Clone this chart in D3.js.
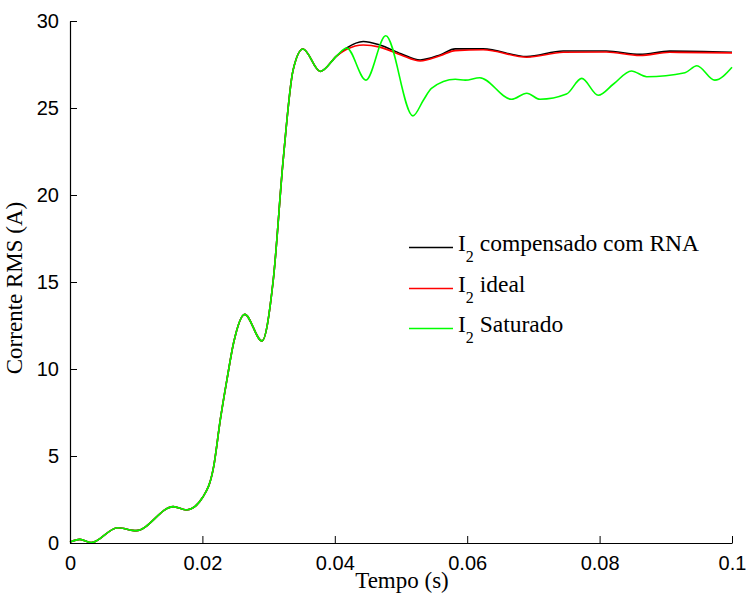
<!DOCTYPE html>
<html>
<head>
<meta charset="utf-8">
<script src="https://cdn.jsdelivr.net/npm/d3@7"></script>
<style>
  html, body { margin: 0; padding: 0; background: #fff; }
  svg { display: block; }
</style>
</head>
<body>
<svg id="chart" width="746" height="595"></svg>
<script>
// ---- data ----
const commonTime = [0, 0.0015, 0.0032, 0.0072, 0.0100, 0.0156, 0.0176, 0.0201, 0.0217, 0.0227, 0.0237, 0.0247, 0.0264, 0.0290, 0.0307, 0.0322, 0.0337, 0.0352, 0.0378, 0.0403];
const commonVal  = [0.05, 0.21, 0.02, 0.88, 0.71, 2.09, 1.90, 2.66, 4.39, 7.07, 9.37, 11.48, 13.14, 11.61, 15.1, 22.0, 27.18, 28.39, 27.1, 28.0];

const compTime = [0.0418, 0.0443, 0.0468, 0.0500, 0.0529, 0.0559, 0.0582, 0.0624, 0.0690, 0.0745, 0.0810, 0.0861, 0.0906, 0.1000];
const compVal  = [28.45, 28.82, 28.62, 28.12, 27.76, 28.05, 28.40, 28.40, 27.96, 28.28, 28.28, 28.08, 28.27, 28.20];

const idealTime = [0.0418, 0.0443, 0.0468, 0.0500, 0.0529, 0.0559, 0.0582, 0.0624, 0.0690, 0.0745, 0.0810, 0.0861, 0.0906, 0.1000];
const idealVal  = [28.37, 28.62, 28.50, 28.05, 27.70, 28.00, 28.30, 28.35, 27.92, 28.20, 28.22, 28.02, 28.20, 28.17];

const satTime = [0.0418, 0.0447, 0.0477, 0.0518, 0.0534, 0.0546, 0.0582, 0.0597, 0.0619, 0.0667, 0.0690, 0.0710, 0.0750, 0.0773, 0.0798, 0.0821, 0.0848, 0.0871, 0.0929, 0.0947, 0.0974, 0.1000];
const satVal  = [28.45, 26.60, 29.15, 24.55, 25.46, 26.13, 26.65, 26.60, 26.74, 25.50, 25.85, 25.50, 25.80, 26.70, 25.73, 26.38, 27.13, 26.80, 27.03, 27.43, 26.60, 27.34];

const xTicks = [0, 0.02, 0.04, 0.06, 0.08, 0.1];
const xTickLabels = ["0", "0.02", "0.04", "0.06", "0.08", "0.1"];
const yTicks = [0, 5, 10, 15, 20, 25, 30];

const seriesNames = ["compensado com RNA", "ideal", "Saturado"];
const seriesColors = ["#000000", "#ff0000", "#00ff00"];

// ---- build ----
function zipPts(t, v) { return t.map((d, i) => [d, v[i]]); }
const series = [
  zipPts(commonTime.concat(compTime), commonVal.concat(compVal)),
  zipPts(commonTime.concat(idealTime), commonVal.concat(idealVal)),
  zipPts(commonTime.concat(satTime), commonVal.concat(satVal))
];

const svg = d3.select("#chart");
const x = d3.scaleLinear().domain([0, 0.1]).range([70, 732]);
const y = d3.scaleLinear().domain([0, 30]).range([543, 21]);

const line = d3.line()
  .x(d => x(d[0]))
  .y(d => y(d[1]))
  .curve(d3.curveMonotoneX);

series.forEach((s, i) => {
  svg.append("path")
    .attr("d", line(s))
    .attr("fill", "none")
    .attr("stroke", seriesColors[i])
    .attr("stroke-width", 1.6)
    .attr("stroke-linejoin", "round");
});

// axes
const xAxis = svg.append("g").attr("transform", "translate(0,543)")
  .call(d3.axisBottom(x).tickValues(xTicks).tickFormat((d, i) => xTickLabels[i]).tickSizeInner(-7).tickSizeOuter(0).tickPadding(13));
const yAxis = svg.append("g").attr("transform", "translate(70,0)")
  .call(d3.axisLeft(y).tickValues(yTicks).tickFormat(d3.format("d")).tickSizeInner(-7).tickSizeOuter(0).tickPadding(11));

[xAxis, yAxis].forEach(g => {
  g.select(".domain").attr("stroke", "#000").attr("stroke-width", 1.2);
  g.selectAll(".tick line").attr("stroke", "#000").attr("stroke-width", 1);
  g.selectAll(".tick text")
    .attr("fill", "#000")
    .style("font-family", "'Liberation Sans', Arial, sans-serif")
    .style("font-size", "20px");
});

// axis titles
svg.append("text")
  .attr("x", 402).attr("y", 588)
  .attr("text-anchor", "middle")
  .style("font-family", "'Liberation Serif', 'Times New Roman', serif")
  .style("font-size", "23px")
  .text("Tempo (s)");

svg.append("text")
  .attr("transform", "translate(22,288) rotate(-90)")
  .attr("text-anchor", "middle")
  .style("font-family", "'Liberation Serif', 'Times New Roman', serif")
  .style("font-size", "23px")
  .text("Corrente RMS (A)");

// legend
const legBase = [251, 292, 332];
seriesNames.forEach((name, i) => {
  svg.append("line")
    .attr("x1", 409).attr("x2", 453)
    .attr("y1", legBase[i] - 3.5).attr("y2", legBase[i] - 3.5)
    .attr("stroke", seriesColors[i]).attr("stroke-width", 1.6);
  const t = svg.append("text")
    .attr("x", 458).attr("y", legBase[i])
    .style("font-family", "'Liberation Serif', 'Times New Roman', serif")
    .style("font-size", "23.5px");
  t.append("tspan").text("I");
  t.append("tspan").attr("dy", 11).style("font-size", "16px").text("2");
  t.append("tspan").attr("dy", -11).text(" " + name);
});
</script>
</body>
</html>
